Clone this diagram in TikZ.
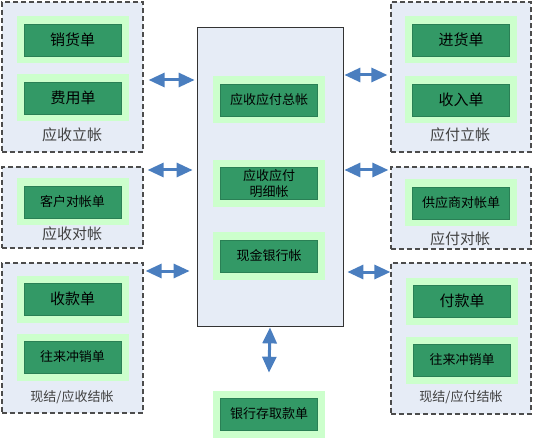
\documentclass[tikz,border=0pt]{standalone}
\usepackage{fontspec}
\newfontfamily\cjk{Noto Sans CJK SC}
\usetikzlibrary{arrows.meta}
\definecolor{padgreen}{HTML}{CCFFCC}
\definecolor{docgreen}{HTML}{339966}
\definecolor{docedge}{HTML}{2A8055}
\definecolor{grpblue}{HTML}{E6ECF6}
\definecolor{linkblue}{HTML}{4A7EBF}

\begin{document}
\begin{tikzpicture}[x=1pt,y=-1pt,font=\cjk,
  grp/.style={draw=black!70,fill=grpblue,dash pattern=on 5pt off 3pt,line width=1.2pt,inner sep=0pt},
  doc/.style={fill=docgreen,draw=docedge,line width=.6pt,preaction={draw=padgreen,line width=15pt},
    minimum width=97pt,minimum height=32pt,inner sep=0pt,align=center,font=\cjk\fontsize{13}{16}\selectfont},
  bigdoc/.style={doc,font=\cjk\fontsize{15}{17}\selectfont},
  grplabel/.style={text=black!75,font=\cjk\fontsize{15}{17}\selectfont},
  link/.style={{Triangle[length=16pt,width=14pt]}-{Triangle[length=16pt,width=14pt]},line width=3pt,draw=linkblue}]
 \useasboundingbox (0,0) rectangle (536,441);
 % dashed groups and the ledger box
 \node[grp,minimum width=141pt,minimum height=150pt] (arpost) at (72.5,77) {};
 \node[grp,minimum width=141pt,minimum height=81pt] (archeck) at (72.5,207.5) {};
 \node[grp,minimum width=141pt,minimum height=150pt] (arsettle) at (72.5,338) {};
 \node[grp,minimum width=140pt,minimum height=150pt] (appost) at (461,77) {};
 \node[grp,minimum width=140pt,minimum height=82pt] (apcheck) at (461,208) {};
 \node[grp,minimum width=140pt,minimum height=151pt] (apsettle) at (461,338.5) {};
 \node[draw=black!80,fill=grpblue,line width=.8pt,minimum width=146pt,minimum height=299pt] (ledger) at (270,176.5) {};
 % receivable side
 \node[bigdoc] (sales) at (72.5,40) {销货单};
 \node[bigdoc] (expense) at (73,98) {费用单};
 \node[doc] (custstmt) at (72.5,202) {客户对帐单};
 \node[bigdoc] (receipt) at (72.5,299) {收款单};
 \node[doc] (arwriteoff) at (72.5,357) {往来冲销单};
 \node[grplabel] (arpostlbl) at (72,135) {应收立帐};
 \node[grplabel] (archecklbl) at (72,234) {应收对帐};
 \node[grplabel,font=\cjk\fontsize{13}{15}\selectfont] (arsettlelbl) at (72,397) {现结/应收结帐};
 % payable side
 \node[bigdoc] (purchase) at (461,40) {进货单};
 \node[bigdoc] (income) at (461,100) {收入单};
 \node[doc] (suppstmt) at (461,203) {供应商对帐单};
 \node[bigdoc] (payment) at (462,301) {付款单};
 \node[doc] (apwriteoff) at (462,360) {往来冲销单};
 \node[grplabel] (appostlbl) at (460,135) {应付立帐};
 \node[grplabel] (apchecklbl) at (460,239) {应付对帐};
 \node[grplabel,font=\cjk\fontsize{13}{15}\selectfont] (apsettlelbl) at (461,397) {现结/应付结帐};
 % ledgers
 \node[doc] (general) at (269,100) {应收应付总帐};
 \node[doc] (detail) at (269,183.5) {应收应付\\明细帐};
 \node[doc] (cash) at (269,256) {现金银行帐};
 \node[doc] (bank) at (269,414) {银行存取款单};
 % links
 \draw[link] ([xshift=5pt]arpost.east |- 0,80) -- ([xshift=-2pt]ledger.west |- 0,80);
 \draw[link] ([xshift=4pt]archeck.east |- 0,170) -- ([xshift=-4pt]ledger.west |- 0,170);
 \draw[link] ([xshift=2pt]arsettle.east |- 0,271) -- ([xshift=-7pt]ledger.west |- 0,271);
 \draw[link] ([xshift=1pt]ledger.east |- 0,75) -- ([xshift=-3pt]appost.west |- 0,75);
 \draw[link] ([xshift=1pt]ledger.east |- 0,170) -- ([xshift=-2pt]apcheck.west |- 0,170);
 \draw[link] ([xshift=4pt]ledger.east |- 0,272) -- ([xshift=0pt]apsettle.west |- 0,272);
 \draw[link] ([yshift=-1pt]ledger.south) -- ([yshift=25pt]bank.north);
\end{tikzpicture}
\end{document}
